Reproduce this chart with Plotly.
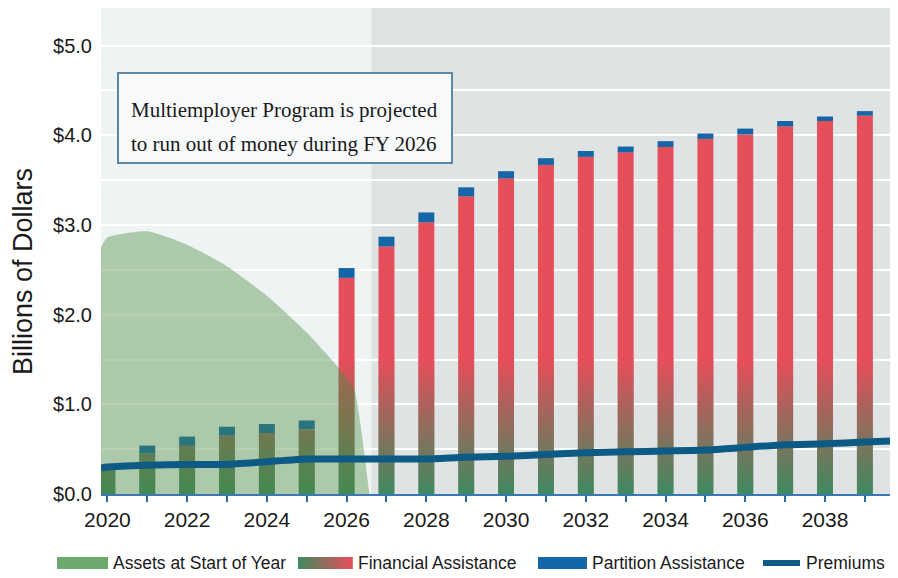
import plotly.graph_objects as go

# ---------------- data ----------------
years = list(range(2020, 2040))
financial_assistance = [0.28, 0.45, 0.54, 0.65, 0.68, 0.72, 2.41, 2.76, 3.03, 3.32, 3.52, 3.67,
                        3.76, 3.81, 3.87, 3.96, 4.01, 4.10, 4.16, 4.22]
partition_assistance = [0.03, 0.09, 0.10, 0.10, 0.10, 0.10, 0.11, 0.11, 0.11, 0.10, 0.08, 0.075,
                        0.065, 0.065, 0.065, 0.06, 0.065, 0.06, 0.05, 0.05]
premium_years = [2019.84] + years + [2039.63]
premiums = [0.29, 0.30, 0.32, 0.33, 0.33, 0.36, 0.39, 0.39, 0.39, 0.39, 0.41, 0.42, 0.44,
            0.46, 0.47, 0.48, 0.49, 0.52, 0.55, 0.56, 0.58, 0.59]
asset_years = [2019.84, 2020, 2021, 2022, 2023, 2024, 2025, 2026, 2026.2, 2026.57]
assets = [2.75, 2.86, 2.93, 2.78, 2.54, 2.21, 1.80, 1.30, 1.15, 0.0]
y_ticks = [0, 1, 2, 3, 4, 5]
y_tick_text = ["$0.0", "$1.0", "$2.0", "$3.0", "$4.0", "$5.0"]
x_label_years = list(range(2020, 2039, 2))
insolvency_boundary = 2026.62
x_range = [2019.84, 2039.63]
y_range = [0, 5.42]

# ---------------- styles ----------------
GREEN = (62, 138, 96)
RED = (230, 78, 90)
BLUE_CAP = "#1466a6"
PREM = "#0d5a85"
FONT = "Liberation Sans, Arial, sans-serif"
SERIF = "Liberation Serif, Times New Roman, serif"


def mix(t):
    t = max(0.0, min(1.0, t))
    return "rgb(%d,%d,%d)" % tuple(round(g + (r - g) * t) for g, r in zip(GREEN, RED))


fig = go.Figure()

# gradient financial-assistance bars: green at $0 fading to red by $1.5
step = 0.025
overlap = 0.012
full_red_at = 1.5
n = int(round(full_red_at / step))
for k in range(n):
    base = k * step
    h = [min(max(f - base, 0.0), step + overlap) for f in financial_assistance]
    fig.add_trace(go.Bar(x=years, y=h, base=[base] * len(years), width=0.4,
                         marker=dict(color=mix((base + step / 2) / full_red_at), line=dict(width=0)),
                         hoverinfo="skip", showlegend=False))
top_base = n * step
fig.add_trace(go.Bar(x=years, y=[max(f - top_base, 0.0) for f in financial_assistance],
                     base=[top_base] * len(years), width=0.4,
                     marker=dict(color=mix(1.0), line=dict(width=0)),
                     hoverinfo="skip", showlegend=False))
# partition assistance caps
fig.add_trace(go.Bar(x=years, y=partition_assistance, base=financial_assistance, width=0.4,
                     marker=dict(color=BLUE_CAP, line=dict(width=0)),
                     hoverinfo="skip", showlegend=False))

# assets area (translucent, above bars)
fig.add_trace(go.Scatter(x=asset_years, y=assets, mode="lines", fill="tozeroy",
                         line=dict(width=0, shape="spline", smoothing=0.6),
                         fillcolor="rgba(75,138,62,0.40)", hoverinfo="skip", showlegend=False))

# premiums line
fig.add_trace(go.Scatter(x=premium_years, y=premiums, mode="lines",
                         line=dict(color=PREM, width=7, shape="spline", smoothing=0.5),
                         hoverinfo="skip", showlegend=False))

shapes = [
    dict(type="rect", xref="x", yref="paper", x0=x_range[0], x1=insolvency_boundary, y0=0, y1=1,
         fillcolor="#eef4f4", line=dict(width=0), layer="below"),
]

# ---- annotation box ----
PL, PW, PT, PH = 101, 789, 8, 486


def px(xp):
    return (xp - PL) / PW


def py(yp):
    return (PT + PH - yp) / PH


shapes.append(dict(type="rect", xref="paper", yref="paper", x0=px(118), x1=px(452), y0=py(163), y1=py(73),
                   fillcolor="#f7f9fa", line=dict(color="#5b87aa", width=2), layer="above"))

annotations = [
    dict(text="Multiemployer Program is projected", xref="paper", yref="paper", x=px(129), y=py(110),
         xanchor="left", yanchor="middle", showarrow=False,
         font=dict(family=SERIF, size=21, color="#1a1a1a")),
    dict(text="to run out of money during FY 2026", xref="paper", yref="paper", x=px(129), y=py(144),
         xanchor="left", yanchor="middle", showarrow=False,
         font=dict(family=SERIF, size=21, color="#1a1a1a")),
    dict(text="Billions of Dollars", xref="paper", yref="paper", x=px(23), y=py(272), textangle=-90,
         xanchor="center", yanchor="middle", showarrow=False,
         font=dict(family=FONT, size=27, color="#1a1a1a")),
]

# ---- custom legend ----
LY = 563
leg_font = dict(family=FONT, size=17.5, color="#1a1a1a")
# assets swatch
shapes.append(dict(type="rect", xref="paper", yref="paper", x0=px(57), x1=px(108), y0=py(569), y1=py(557),
                   fillcolor="#6aa86c", line=dict(width=0)))
annotations.append(dict(text="Assets at Start of Year", xref="paper", yref="paper", x=px(111), y=py(LY),
                        xanchor="left", yanchor="middle", showarrow=False, font=leg_font))
# financial assistance gradient swatch
sw0, sw1, nseg = 298, 352, 18
for i in range(nseg):
    a = sw0 + (sw1 - sw0) * i / nseg
    b = sw0 + (sw1 - sw0) * (i + 1) / nseg + 0.8
    shapes.append(dict(type="rect", xref="paper", yref="paper", x0=px(a), x1=px(b), y0=py(569), y1=py(557),
                       fillcolor=mix((i + 0.5) / nseg), line=dict(width=0)))
annotations.append(dict(text="Financial Assistance", xref="paper", yref="paper", x=px(356), y=py(LY),
                        xanchor="left", yanchor="middle", showarrow=False, font=leg_font))
# partition swatch
shapes.append(dict(type="rect", xref="paper", yref="paper", x0=px(538), x1=px(587), y0=py(569), y1=py(557),
                   fillcolor=BLUE_CAP, line=dict(width=0)))
annotations.append(dict(text="Partition Assistance", xref="paper", yref="paper", x=px(590), y=py(LY),
                        xanchor="left", yanchor="middle", showarrow=False, font=leg_font))
# premiums line swatch
shapes.append(dict(type="line", xref="paper", yref="paper", x0=px(763), x1=px(800), y0=py(LY), y1=py(LY),
                   line=dict(color=PREM, width=6)))
annotations.append(dict(text="Premiums", xref="paper", yref="paper", x=px(804), y=py(LY),
                        xanchor="left", yanchor="middle", showarrow=False, font=leg_font))

fig.update_layout(
    width=898, height=578,
    margin=dict(l=PL, r=898 - PL - PW, t=PT, b=578 - PT - PH),
    paper_bgcolor="white", plot_bgcolor="#e0e3e4",
    barmode="overlay", showlegend=False,
    shapes=shapes, annotations=annotations,
    xaxis=dict(range=x_range, tickvals=years,
               ticktext=[str(y) if y in x_label_years else "" for y in years],
               ticks="outside", ticklen=6, tickwidth=1.5, tickcolor="#2a6aa0",
               showline=True, linecolor="#3a78b5", linewidth=2, showgrid=False, zeroline=False,
               tickfont=dict(family=FONT, size=21, color="#1a1a1a")),
    yaxis=dict(range=y_range, tickvals=y_ticks, ticktext=y_tick_text,
               showgrid=True, gridcolor="white", gridwidth=2, zeroline=False, showline=False,
               ticks="", ticklabelstandoff=8,
               minor=dict(dtick=0.5, showgrid=True, gridcolor="white", gridwidth=2),
               tickfont=dict(family=FONT, size=20, color="#1a1a1a")),
)

fig.write_html("out.html")
